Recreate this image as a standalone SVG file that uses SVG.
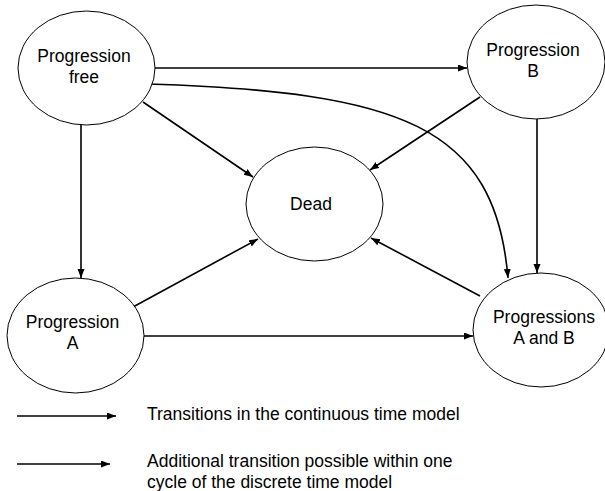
<svg xmlns="http://www.w3.org/2000/svg" width="605" height="491" viewBox="0 0 605 491">
<style>
.node ellipse{fill:#fff;stroke:#000;stroke-width:1}
text{font-family:"Liberation Sans",Arial,sans-serif;font-size:17.5px;fill:#000}
.node text{text-anchor:middle}
.conn line,.conn path{stroke:#000;stroke-width:1.6;fill:none;marker-end:url(#arr)}
</style>
<defs>
<marker id="arr" markerUnits="userSpaceOnUse" markerWidth="10" markerHeight="8" refX="9" refY="3.5" orient="auto">
<path d="M0,0 L9,3.5 L0,7 z" fill="#000"/>
</marker>
</defs>
<g id="connectors" class="conn">
<line x1="155" y1="68" x2="467" y2="68"/>
<line x1="143" y1="102" x2="253" y2="177"/>
<path d="M148,84 C400,92 495,125 508,278"/>
<line x1="480" y1="97" x2="370" y2="170"/>
<line x1="537" y1="119" x2="537" y2="273"/>
<line x1="81" y1="125" x2="81" y2="278"/>
<line x1="133" y1="307" x2="258" y2="239"/>
<line x1="480" y1="296" x2="371" y2="238"/>
<line x1="144" y1="336" x2="473" y2="336"/>
</g>
<g id="progression-free" class="node">
<ellipse cx="86.5" cy="68" rx="68.5" ry="57"/>
<text x="84" y="62">Progression</text>
<text x="84" y="83">free</text>
</g>
<g id="progression-b" class="node">
<ellipse cx="536" cy="62" rx="69" ry="57"/>
<text x="533" y="56">Progression</text>
<text x="533" y="77">B</text>
</g>
<g id="dead" class="node">
<ellipse cx="314.5" cy="204" rx="68.5" ry="57"/>
<text x="311" y="210">Dead</text>
</g>
<g id="progression-a" class="node">
<ellipse cx="75.5" cy="335.5" rx="68.5" ry="57.5"/>
<text x="72.5" y="328">Progression</text>
<text x="72.5" y="349">A</text>
</g>
<g id="progressions-ab" class="node">
<ellipse cx="541" cy="330" rx="68" ry="57"/>
<text x="544" y="323">Progressions</text>
<text x="544" y="344">A and B</text>
</g>
<g id="legend">
<g class="conn">
<line x1="17" y1="416" x2="116" y2="416"/>
<line x1="17" y1="464" x2="110" y2="464" style="stroke-width:1.4"/>
</g>
<text x="147" y="420">Transitions in the continuous time model</text>
<text x="147" y="467">Additional transition possible within one</text>
<text x="147" y="487.5">cycle of the discrete time model</text>
</g>
</svg>
